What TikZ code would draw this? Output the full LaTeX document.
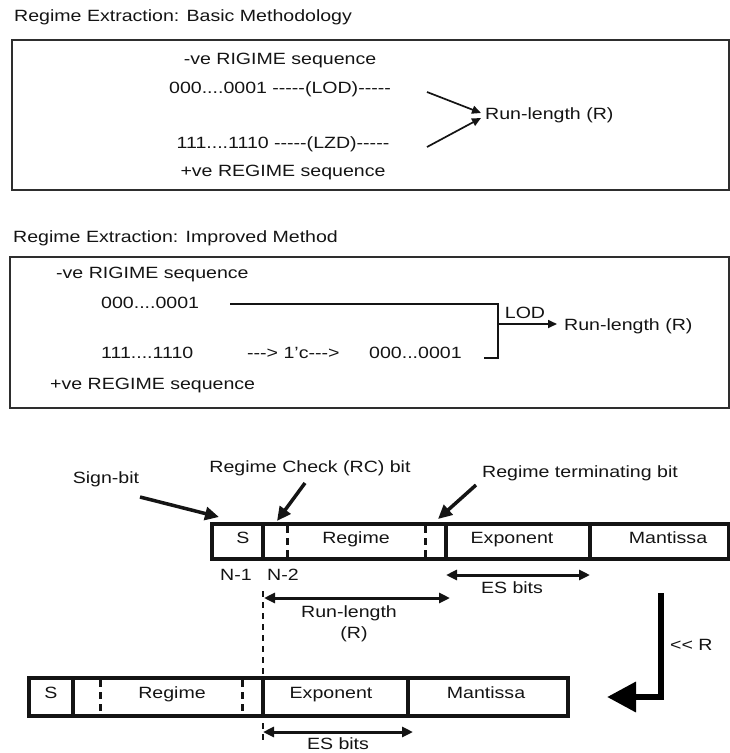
\documentclass[tikz,border=0pt]{standalone}
\usepackage{fontspec}
\setmainfont{Liberation Sans}[FakeStretch=1.2, Ligatures=TeXOff]
\usetikzlibrary{arrows.meta}
\definecolor{ink}{gray}{0.08}
\definecolor{frame}{gray}{0.18}
\begin{document}
\begin{tikzpicture}[x=1pt,y=-1pt,
  every node/.style={font=\fontsize{16.3}{19}\selectfont, text=ink, inner sep=0pt,
    text height=11.7pt, text depth=0pt},
  panel/.style={draw=frame, line width=1.8pt},
  thinarrow/.style={draw=ink, line width=1.7pt, -{Triangle[length=9pt,width=8pt]}},
  plainline/.style={draw=ink, line width=1.7pt},
  callout/.style={draw=ink, line width=3.5pt, -{Triangle[length=14pt,width=13pt]}},
  span/.style={draw=ink, line width=3pt,
    {Triangle[length=11pt,width=10pt]}-{Triangle[length=11pt,width=10pt]}},
  word/.style={draw=ink, line width=3.5pt},
  solidsep/.style={draw=ink, line width=3.5pt},
  dashsep/.style={draw=ink, line width=3pt, dash pattern=on 7pt off 5pt},
  guide/.style={draw=ink, line width=2.5pt, dash pattern=on 6pt off 5pt},
  shiftarrow/.style={draw=black, line width=6.5pt, line join=miter,
    -{Triangle[length=29pt,width=29pt]}}]
\useasboundingbox (0,0) rectangle (730,753);

% ---------- Basic methodology ----------
\node[anchor=west] (title1) at (14,16) {Regime Extraction: Basic Methodology};
\draw[panel] (12,40) rectangle (729,190);
\node (neg1) at (280,59) {-ve RIGIME sequence};
\node (lod1) at (280,88) {000....0001 -----(LOD)-----};
\node (lzd1) at (283,143) {111....1110 -----(LZD)-----};
\node (pos1) at (283,171) {+ve REGIME sequence};
\node[anchor=west] (run1) at (485,114) {Run-length (R)};
\coordinate (lodout) at (427,92);
\coordinate (lzdout) at (427,147);
\coordinate (tipa) at (481,113);
\coordinate (tipb) at (481,118);
\draw[thinarrow] (lodout) -- (tipa);
\draw[thinarrow] (lzdout) -- (tipb);

% ---------- Improved method ----------
\node[anchor=west] (title2) at (13,237) {Regime Extraction: Improved Method};
\draw[panel] (10,257) rectangle (729,408);
\node[anchor=west] (neg2) at (56,273) {-ve RIGIME sequence};
\node[anchor=west] (zeros2) at (101,303) {000....0001};
\node[anchor=west] (ones2) at (101,353) {111....1110};
\node[anchor=west] (cmpl) at (247,353) {---> 1’c--->};
\node[anchor=west] (conv2) at (369,353) {000...0001};
\node[anchor=west] (pos2) at (50,384) {+ve REGIME sequence};
\node[anchor=west] (run2) at (564,325) {Run-length (R)};
\node (lodlbl) at (525,313) {LOD};
\coordinate (ja) at (230,304);
\coordinate (jb) at (498,304);
\coordinate (jc) at (498,358);
\coordinate (jd) at (484,358);
\coordinate (jm) at (498,324);
\coordinate (jtip) at (557,324);
\draw[plainline] (ja) -- (jb) -- (jc) -- (jd);
\draw[thinarrow] (jm) -- (jtip);

% ---------- Posit word before the shift ----------
\draw[word] (212,524) rectangle (729,559);
\draw[solidsep] (263,524) -- (263,559);
\draw[solidsep] (446,524) -- (446,559);
\draw[solidsep] (590,524) -- (590,559);
\draw[dashsep] (287,526) -- (287,559);
\draw[dashsep] (425,526) -- (425,559);
\node (s1) at (243,538) {S};
\node (reg1) at (356,538) {Regime};
\node (exp1) at (512,538) {Exponent};
\node (man1) at (668,538) {Mantissa};
\node (n1) at (236,575) {N-1};
\node (n2) at (283,575) {N-2};

\node (signlbl) at (106,478) {Sign-bit};
\node (rclbl) at (310,467) {Regime Check (RC) bit};
\node (rtlbl) at (580,472) {Regime terminating bit};
\coordinate (signfrom) at (140,497);
\coordinate (signto) at (219,517);
\coordinate (rcfrom) at (305,483);
\coordinate (rcto) at (277,521);
\coordinate (rtfrom) at (476,485);
\coordinate (rtto) at (438,519);
\draw[callout] (signfrom) -- (signto);
\draw[callout] (rcfrom) -- (rcto);
\draw[callout] (rtfrom) -- (rtto);

\coordinate (es1a) at (446,575);
\coordinate (es1b) at (590,575);
\draw[span] (es1a) -- (es1b);
\node (es1) at (512,588) {ES bits};

\coordinate (rla) at (264,598);
\coordinate (rlb) at (450,598);
\draw[span] (rla) -- (rlb);
\node (rl3) at (349,612) {Run-length};
\node (rl4) at (354,633) {(R)};

% alignment guide through both words
\coordinate (gtop) at (263,591);
\coordinate (gbot) at (263,740);
\draw[guide] (gtop) -- (gbot);

% ---------- shift ----------
\coordinate (sha) at (661,593);
\coordinate (shb) at (661,697);
\coordinate (shc) at (607,697);
\draw[shiftarrow] (sha) -- (shb) -- (shc);
\node[anchor=west] (shl) at (670,645) {<< R};

% ---------- Posit word after the shift ----------
\draw[word] (29,678) rectangle (568,716);
\draw[solidsep] (73,678) -- (73,716);
\draw[solidsep] (263,678) -- (263,716);
\draw[solidsep] (408,678) -- (408,716);
\draw[dashsep] (100,680) -- (100,716);
\draw[dashsep] (242,680) -- (242,716);
\node (s2) at (51,693) {S};
\node (reg2) at (172,693) {Regime};
\node (exp2) at (331,693) {Exponent};
\node (man2) at (486,693) {Mantissa};

\coordinate (es2a) at (263,732);
\coordinate (es2b) at (413,732);
\draw[span] (es2a) -- (es2b);
\node (es2) at (338,744) {ES bits};
\end{tikzpicture}
\end{document}
